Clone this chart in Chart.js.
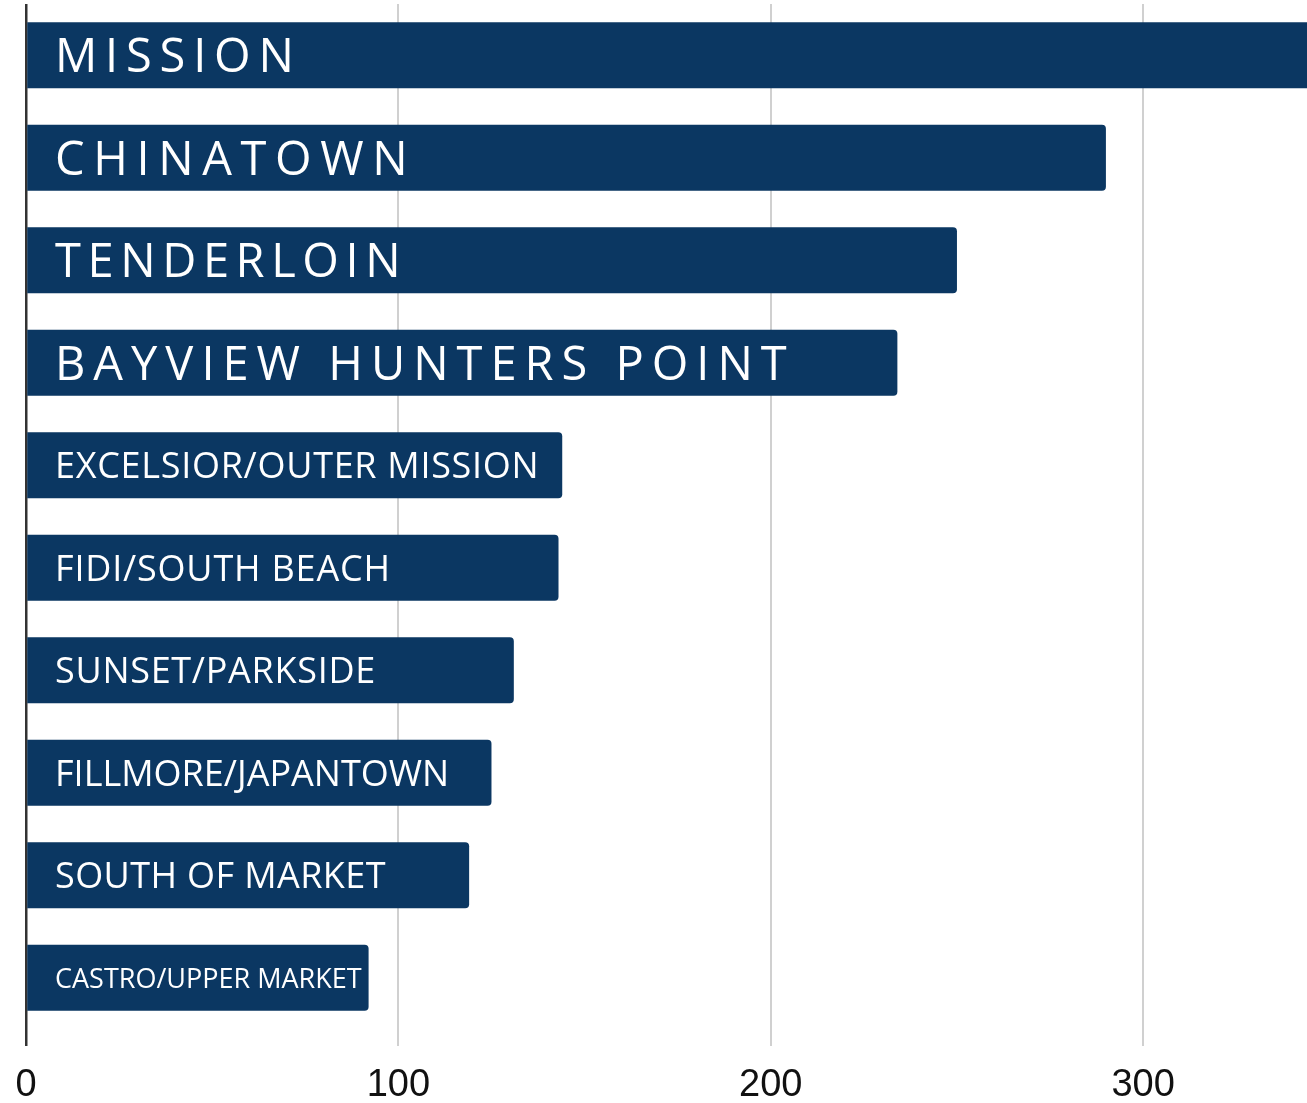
<!DOCTYPE html>
<html>
<head>
<meta charset="utf-8">
<script src="https://cdn.jsdelivr.net/npm/chart.js@4.4.1/dist/chart.umd.min.js"></script>
<style>
  html, body { margin: 0; padding: 0; background: #fff; }
  #wrap { width: 1307px; height: 1103px; position: relative; }
</style>
</head>
<body>
<div id="wrap"><canvas id="myChart"></canvas></div>
<script>
// neighborhoods and their counts
var neighborhoods = [
  "MISSION",
  "CHINATOWN",
  "TENDERLOIN",
  "BAYVIEW HUNTERS POINT",
  "EXCELSIOR/OUTER MISSION",
  "FIDI/SOUTH BEACH",
  "SUNSET/PARKSIDE",
  "FILLMORE/JAPANTOWN",
  "SOUTH OF MARKET",
  "CASTRO/UPPER MARKET"
];
var counts = [352, 290, 250, 234, 144, 143, 131, 125, 119, 92];
var tickValues = [0, 100, 200, 300];

// label look inside each bar: font size and letter spacing (px)
var labelSize = [47, 47, 47, 47, 36, 36, 36, 36, 36, 27];
var labelSpacing = [7.8, 8.6, 6.6, 8, 0.7, 0.8, 0.7, 0, 0.4, 0];

var barColor = "#0b3762";

var insideLabels = {
  id: 'insideLabels',
  afterDatasetsDraw: function(chart) {
    var ctx = chart.ctx;
    var meta = chart.getDatasetMeta(0);
    var left = chart.chartArea.left;
    ctx.save();
    ctx.fillStyle = "#ffffff";
    ctx.textAlign = "left";
    ctx.textBaseline = "alphabetic";
    for (var i = 0; i < meta.data.length; i++) {
      var bar = meta.data[i];
      ctx.font = "400 " + labelSize[i] + "px 'Open Sans', sans-serif";
      ctx.letterSpacing = labelSpacing[i] + "px";
      var cap = ctx.measureText("H").actualBoundingBoxAscent;
      ctx.fillText(neighborhoods[i], left + 29, bar.y + cap / 2);
    }
    ctx.restore();
  }
};

var ctx = document.getElementById('myChart').getContext('2d');

var data = {
  labels: neighborhoods,
  datasets: [
    {
      data: counts,
      backgroundColor: barColor,
      borderRadius: 4,
      borderSkipped: 'start',
      categoryPercentage: 1,
      barPercentage: 0.645
    }]
};

var options = {
  indexAxis: 'y',
  responsive: true,
  maintainAspectRatio: false,
  animation: false,
  layout: {
    padding: { top: 4, left: 26, right: 0, bottom: -23 }
  },
  plugins: {
    legend: { display: false },
    tooltip: { enabled: false }
  },
  scales: {
    x: {
      min: 0,
      max: 344,
      afterBuildTicks: function(axis) {
        axis.ticks = tickValues.map(function(v) { return { value: v }; });
      },
      afterFit: function(axis) {
        axis.paddingLeft = 0;
        axis.paddingRight = 0;
      },
      border: { display: false },
      grid: {
        color: function(c) { return c.tick && c.tick.value === 0 ? "#333333" : "#d0d0d0"; },
        lineWidth: function(c) { return c.tick && c.tick.value === 0 ? 2.5 : 2; },
        tickLength: 17
      },
      ticks: {
        color: "#111111",
        padding: 21,
        maxRotation: 0,
        font: { family: "Arial, 'Liberation Sans', sans-serif", size: 38, lineHeight: 1 }
      }
    },
    y: {
      display: false
    }
  }
};

var myBarChart = new Chart(ctx, {
  type: 'bar',
  data: data,
  options: options,
  plugins: [insideLabels]
});
</script>
</body>
</html>
